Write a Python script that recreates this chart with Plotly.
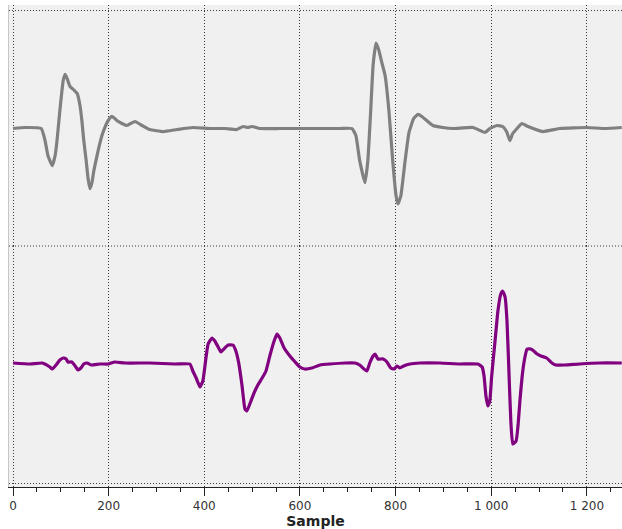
import plotly.graph_objects as go
from plotly.subplots import make_subplots

# ---- data (sample index, amplitude) ----
top_x = [0, 25, 59, 67, 73, 82, 88, 92, 98, 105, 109, 113, 119, 128, 134, 140, 144, 148, 153, 157,
         161, 165, 169, 178, 186, 192, 199, 207, 220, 238, 255, 270, 286, 314, 343, 376, 412, 443,
         468, 481, 491, 500, 516, 558, 600, 642, 684, 709, 717, 725, 736, 742, 748, 753, 759, 765,
         771, 778, 786, 794, 801, 805, 811, 820, 828, 838, 847, 855, 878, 899, 920, 962, 987, 997,
         1012, 1024, 1033, 1039, 1045, 1054, 1064, 1077, 1108, 1144, 1200, 1238, 1273]
top_y = [0, 1, 0, -12, -27, -37, -27, -12, 18, 48, 54, 50, 42, 38, 35, 23, 8, -12, -32, -50,
         -60, -54, -42, -22, -7, 1, 8, 12, 7, 3, 7, 3, -1, -3, -1, 1, 0, 0,
         -1, 2, 1, 2, 0, 0, 0, 0, 0, 0, -7, -32, -54, -32, 18, 63, 85, 78,
         66, 53, 18, -32, -67, -75, -67, -32, -4, 10, 14, 12, 3, 1, 0, 1, -4, 0,
         3, 2, -4, -12, -5, 0, 5, 2, -3, 0, 1, 0, 1]

bot_x = [0, 36, 61, 77, 82, 90, 98, 105, 111, 115, 123, 130, 136, 142, 148, 155, 163, 182, 199,
         213, 234, 286, 339, 370, 376, 383, 391, 397, 404, 408, 416, 422, 429, 435, 441, 450, 460,
         466, 472, 479, 485, 489, 496, 504, 512, 521, 529, 537, 546, 552, 558, 567, 579, 590, 600,
         610, 625, 642, 663, 694, 715, 725, 734, 740, 746, 753, 757, 763, 774, 782, 790, 797, 803,
         809, 817, 830, 851, 893, 935, 972, 981, 985, 989, 993, 997, 1001, 1008, 1014, 1020, 1024,
         1029, 1033, 1037, 1041, 1045, 1052, 1056, 1060, 1066, 1071, 1075, 1083, 1089, 1096, 1104,
         1116, 1127, 1135, 1154, 1185, 1227, 1273]
bot_y = [0, -1, 0, -4, -6, -2, 3, 5, 4, 1, 1, -3, -7, -5, -1, 0, -2, -1, -1,
         1, 0, 0, -1, -1, -8, -15, -24, -18, 7, 19, 25, 22, 16, 11, 14, 18, 18,
         12, 0, -23, -46, -48, -40, -30, -22, -15, -8, 7, 22, 29, 25, 15, 7, 1, -4,
         -6, -5, -2, -1, 0, 0, -2, -6, -8, 0, 7, 9, 4, 4, 1, -5, -6, -3,
         -5, -3, -1, 0, 0, -1, -1, -4, -13, -33, -43, -38, -13, 22, 52, 69, 72,
         66, 42, -8, -58, -81, -78, -63, -38, -8, 7, 14, 14, 12, 9, 7,
         5, 0, -2, -2, -1, 0, 0]

x_ticks = [0, 200, 400, 600, 800, 1000, 1200]

fig = make_subplots(rows=2, cols=1, shared_xaxes=True, vertical_spacing=0)

fig.add_trace(go.Scatter(x=top_x, y=top_y, mode="lines",
                         line=dict(color="#808080", width=3.2, shape="spline", smoothing=0.4),
                         showlegend=False), row=1, col=1)
fig.add_trace(go.Scatter(x=bot_x, y=bot_y, mode="lines",
                         line=dict(color="#800080", width=3.2, shape="spline", smoothing=0.4),
                         showlegend=False), row=2, col=1)

grid = dict(showgrid=True, gridcolor="#3a3a3a", griddash="1px,2px", gridwidth=1, zeroline=False)

fig.update_xaxes(range=[-8.4, 1273.5], tickvals=x_ticks, separatethousands=True, **grid)
fig.update_xaxes(showticklabels=False, ticks="", row=1, col=1)
fig.update_xaxes(row=2, col=1, showline=True, linecolor="#222222", linewidth=1,
                 ticks="outside", ticklen=8, tickcolor="#222222",
                 minor=dict(dtick=50, tick0=0, ticks="outside", ticklen=4, tickcolor="#222222", showgrid=False),
                 tickfont=dict(family="DejaVu Sans", size=12, color="#333333"),
                 title=dict(text="<b>Sample</b>", font=dict(family="DejaVu Sans", size=14, color="#222222"),
                            standoff=4))

fig.update_yaxes(range=[-117, 123], tickvals=[118], showticklabels=False,
                 showline=True, linecolor="#c8c8c8", row=1, col=1, **grid)
fig.update_yaxes(range=[-124, 117], tickvals=[-120], showticklabels=False,
                 showline=True, linecolor="#c8c8c8", row=2, col=1, **grid)

# dotted separator between the two panels
fig.add_shape(type="line", xref="paper", yref="paper", x0=0, x1=1, y0=0.5, y1=0.5,
              line=dict(color="#3a3a3a", width=1, dash="1px,2px"), layer="below")

fig.update_layout(width=622, height=529, margin=dict(l=9, r=0, t=5, b=42),
                  plot_bgcolor="#f0f0f0", paper_bgcolor="#ffffff",
                  separators=". ", font=dict(family="DejaVu Sans"))

fig.write_html("out.html")
